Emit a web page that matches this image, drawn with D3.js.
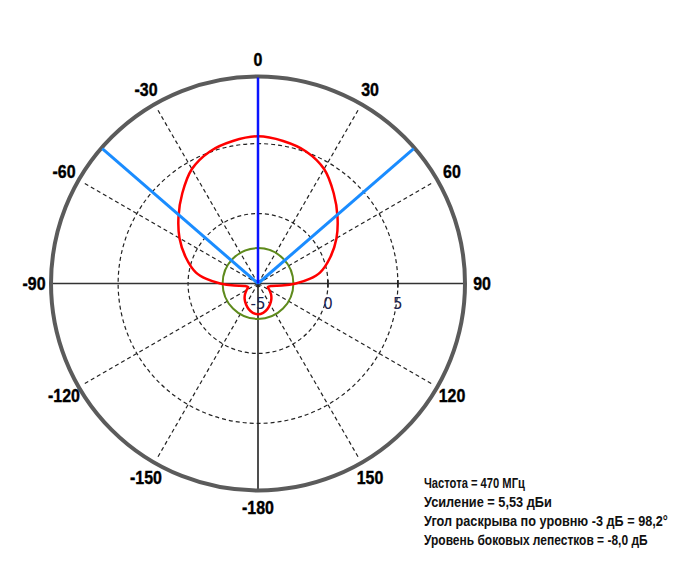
<!DOCTYPE html>
<html>
<head>
<meta charset="utf-8">
<script src="https://cdn.jsdelivr.net/npm/d3@7"></script>
<style>
  html, body { margin: 0; padding: 0; background: #fff; }
  svg { display: block; }
</style>
</head>
<body>
<svg id="chart" width="680" height="567"></svg>
<script>
// ---------------- data ----------------
const patternAngles = [0, 10, 20, 30, 40, 50, 60, 70, 80, 85, 90, 95, 100, 110, 120, 130, 140, 150, 160, 170,
  180, 190, 200, 210, 220, 230, 240, 250, 260, 265, 270, 275, 280, 290, 300, 310, 320, 330, 340, 350];
const patternGain = [5.53, 5.35, 5.05, 4.45, 3.42, 2.42, 1.48, 0.5, -0.5, -1.3, -2.3, -3.3, -4.0, -4.25, -4.05, -3.78, -3.52, -3.28, -3.05, -2.87,
  -2.8, -2.87, -3.05, -3.28, -3.52, -3.78, -4.05, -4.25, -4.0, -3.3, -2.3, -1.3, -0.5, 0.5, 1.48, 2.42, 3.42, 4.45, 5.05, 5.35];
const angleTickLabels = ["0", "30", "60", "90", "120", "150", "-180", "-150", "-120", "-90", "-60", "-30"];
const angleTickValues = [0, 30, 60, 90, 120, 150, 180, 210, 240, 270, 300, 330];
const radialTicks = [-5, 0, 5];
const gridCircles = [0, 5];
const gainMax = 5.53;
const sideLobeLevel = -8.0;       // dB relative to max
const beamWidth = 98.2;           // degrees at -3 dB
const infoLines = [
  "Частота = 470 МГц",
  "Усиление = 5,53 дБи",
  "Угол раскрыва по уровню -3 дБ = 98,2°",
  "Уровень боковых лепестков = -8,0 дБ"
];
const infoWidths = [101, 128, 244, 224];

// ---------------- layout ----------------
const cx = 258, cy = 283.5, outerR = 207;
const svg = d3.select("#chart");
const g = svg.append("g").attr("transform", `translate(${cx},${cy})`);

const r = d3.scaleLinear().domain([-5, 9.8]).range([0, outerR]);
const toRad = d => d * Math.PI / 180;
const px = (a, rad) => rad * Math.sin(toRad(a));
const py = (a, rad) => -rad * Math.cos(toRad(a));

// dashed grid circles
g.selectAll(".gridc").data(gridCircles).join("circle")
  .attr("r", d => r(d)).attr("fill", "none")
  .attr("stroke", "#222").attr("stroke-width", 1.2).attr("stroke-dasharray", "4,3");

// dashed radial lines
const spokeAngles = angleTickValues.filter(a => a % 90 !== 0);
g.selectAll(".spoke").data(spokeAngles).join("line")
  .attr("x1", 0).attr("y1", 0)
  .attr("x2", a => px(a, outerR - 4)).attr("y2", a => py(a, outerR - 4))
  .attr("stroke", "#222").attr("stroke-width", 1.2).attr("stroke-dasharray", "4,3");

// solid axes: horizontal diameter and lower vertical radius
g.append("line").attr("x1", -outerR).attr("y1", 0).attr("x2", outerR).attr("y2", 0)
  .attr("stroke", "#333").attr("stroke-width", 1.6);
g.append("line").attr("x1", 0).attr("y1", 0).attr("x2", 0).attr("y2", outerR)
  .attr("stroke", "#222").attr("stroke-width", 1.6);

// radial ticks & labels
g.selectAll(".rtick").data(radialTicks).join("line")
  .attr("x1", d => r(d)).attr("x2", d => r(d)).attr("y1", -3.5).attr("y2", 4)
  .attr("stroke", "#222").attr("stroke-width", 1.6);
g.selectAll(".rlab").data(radialTicks).join("text")
  .attr("x", d => r(d)).attr("y", 20)
  .attr("text-anchor", "middle").attr("dominant-baseline", "central")
  .attr("font-family", "DejaVu Sans, Verdana, sans-serif").attr("font-size", 15)
  .attr("fill", "#1b2452")
  .text(d => d);

// outer circle
g.append("circle").attr("r", outerR).attr("fill", "none")
  .attr("stroke", "#5b5b5b").attr("stroke-width", 4);

// side-lobe level circle
g.append("circle").attr("r", r(gainMax + sideLobeLevel)).attr("fill", "none")
  .attr("stroke", "#5e8a1c").attr("stroke-width", 2);

// radiation pattern
const patternData = patternAngles.map((a, i) => ({ a, v: patternGain[i] }));
const line = d3.lineRadial()
  .angle(d => toRad(d.a))
  .radius(d => r(d.v))
  .curve(d3.curveCatmullRomClosed.alpha(0.5));
g.append("path").datum(patternData).attr("d", line)
  .attr("fill", "none").attr("stroke", "#ff0000").attr("stroke-width", 2.5);

// beam-width lines
[-beamWidth / 2, beamWidth / 2].forEach(a => {
  g.append("line").attr("x1", 0).attr("y1", 0)
    .attr("x2", px(a, outerR - 1)).attr("y2", py(a, outerR - 1))
    .attr("stroke", "#1a8cff").attr("stroke-width", 3);
});
g.append("line").attr("x1", 0).attr("y1", 0)
  .attr("x2", px(0, outerR - 1)).attr("y2", py(0, outerR - 1))
  .attr("stroke", "#0a14ff").attr("stroke-width", 2.5);

// angle labels (condensed bold)
const labR = 224;
g.selectAll(".alab").data(angleTickValues).join("text")
  .attr("transform", a => `translate(${px(a, labR)},${py(a, labR)}) scale(0.84,1)`)
  .attr("text-anchor", "middle").attr("dominant-baseline", "central")
  .attr("font-family", "Liberation Sans, Arial, sans-serif")
  .attr("font-weight", "bold").attr("font-size", 19).attr("fill", "#000")
  .attr("stroke", "#000").attr("stroke-width", 0.4)
  .text((a, i) => angleTickLabels[i]);

// info text, horizontally condensed to the reference widths
const info = svg.append("g").selectAll("text").data(infoLines).join("text")
  .attr("x", 0).attr("y", 0)
  .attr("font-family", "Liberation Sans, Arial, sans-serif")
  .attr("font-weight", "bold").attr("font-size", 14).attr("fill", "#111")
  .text(d => d);
info.each(function (d, i) {
  const natural = this.getComputedTextLength();
  const sx = infoWidths[i] / natural;
  d3.select(this).attr("transform", `translate(424,${488 + i * 19}) scale(${sx},1)`);
});
</script>
</body>
</html>
